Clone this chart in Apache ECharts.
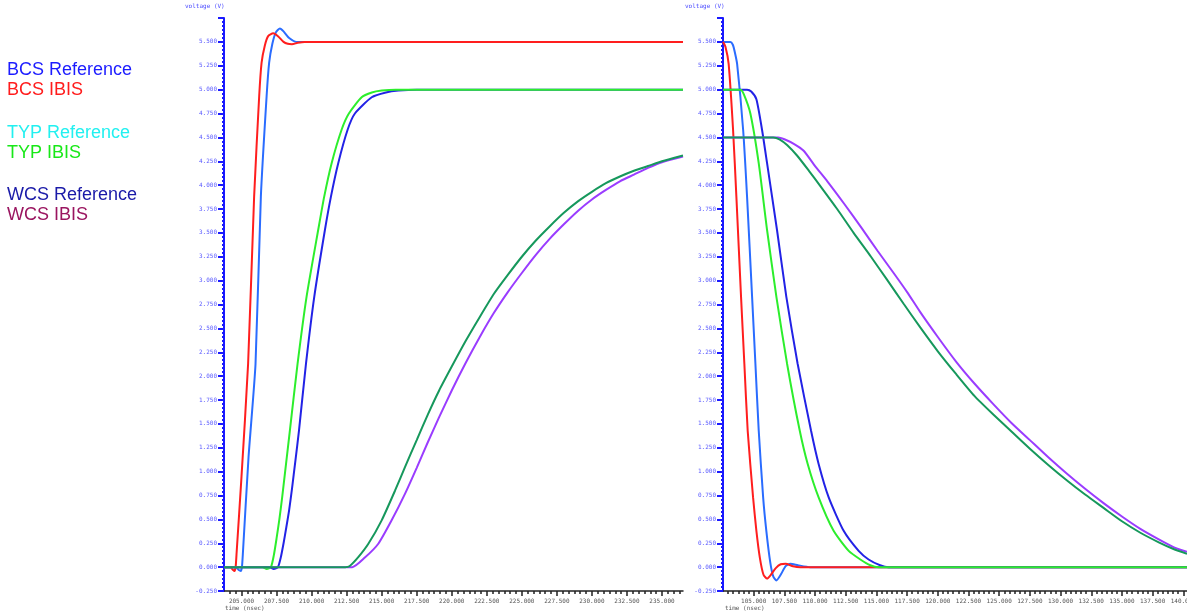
<!DOCTYPE html>
<html>
<head>
<meta charset="utf-8">
<title>IBIS rising / falling waveforms</title>
<script src="https://cdn.jsdelivr.net/npm/echarts@6/dist/echarts.min.js"></script>
<style>
  html, body { margin: 0; padding: 0; background: #fff; }
  #main { width: 1187px; height: 613px; }
</style>
</head>
<body>
<div id="main"></div>
<script>
// legend text (left side), in the colours used in the original
var legendNames = ['BCS Reference', 'BCS IBIS', 'TYP Reference', 'TYP IBIS', 'WCS Reference', 'WCS IBIS'];
var legendColors = ['#1c1cff', '#ff1c1c', '#22f0f0', '#18e818', '#1a1aa8', '#9a1560'];

// rising edge, time (ns) / voltage (V)
var riseBcsRef = [[203.75,0],[204.6,0],[204.8,-0.03],[204.95,-0.04],[205.03,0],[205.1,0.15],[205.5,1.15],[206.0,2.13],[206.38,3.88],[206.79,4.93],[206.97,5.28],[207.2,5.48],[207.45,5.6],[207.74,5.64],[208.0,5.61],[208.4,5.54],[208.93,5.5],[236.5,5.5]];
var riseBcsIbis = [[203.75,0],[204.2,0],[204.4,-0.03],[204.5,-0.04],[204.58,0],[204.65,0.15],[205.0,0.95],[205.47,2.13],[205.9,3.88],[206.26,4.93],[206.43,5.28],[206.66,5.46],[206.9,5.56],[207.26,5.59],[207.6,5.56],[208.0,5.5],[208.3,5.48],[208.6,5.476],[209.0,5.49],[209.5,5.5],[236.5,5.5]];
var riseTypRef = [[203.75,0],[207.0,0],[207.3,-0.02],[207.6,0],[207.8,0.1],[208.0,0.25],[208.2,0.42],[208.4,0.6],[208.6,0.82],[208.85,1.12],[209.1,1.43],[209.6,2.13],[210.19,2.83],[210.95,3.53],[211.38,3.88],[211.9,4.23],[212.57,4.58],[213.09,4.75],[214.29,4.92],[215.3,4.97],[216.2,4.99],[217.5,5.0],[236.5,5.0]];
var riseTypIbis = [[203.75,0],[206.5,0],[206.8,-0.02],[207.1,0],[207.3,0.12],[207.5,0.3],[207.7,0.5],[207.9,0.73],[208.45,1.43],[209.0,2.13],[209.64,2.83],[210.47,3.53],[210.9,3.88],[211.43,4.23],[212.14,4.58],[212.66,4.75],[213.57,4.92],[214.3,4.97],[215.0,4.99],[216.0,5.0],[236.5,5.0]];
var riseWcsRef = [[203.75,0],[212.4,0],[212.7,0.01],[213.33,0.105],[214.05,0.245],[215.0,0.49],[215.95,0.8],[216.67,1.05],[217.5,1.33],[218.3,1.6],[219.1,1.85],[220.0,2.1],[221.0,2.37],[222.0,2.62],[223.0,2.86],[224.0,3.06],[225.0,3.25],[226.0,3.42],[227.0,3.57],[228.0,3.71],[229.0,3.83],[230.0,3.93],[231.0,4.02],[232.0,4.09],[233.0,4.15],[234.0,4.2],[235.0,4.25],[236.5,4.31]];
var riseWcsIbis = [[203.75,0],[212.9,0],[213.8,0.1],[214.76,0.245],[215.71,0.49],[216.67,0.77],[217.5,1.04],[218.3,1.31],[219.1,1.57],[220.0,1.85],[221.0,2.14],[222.0,2.41],[223.0,2.66],[224.0,2.88],[225.0,3.08],[226.0,3.27],[227.0,3.44],[228.0,3.59],[229.0,3.73],[230.0,3.85],[231.0,3.95],[232.0,4.04],[233.0,4.11],[234.0,4.18],[235.0,4.24],[236.5,4.3]];

// falling edge, time (ns) / voltage (V)
var fallBcsRef = [[102.5,5.5],[103.1,5.5],[103.3,5.47],[103.45,5.4],[103.65,5.27],[104.14,4.58],[104.46,3.88],[104.87,2.83],[105.14,2.13],[105.41,1.43],[105.77,0.73],[106.03,0.38],[106.35,0.05],[106.6,-0.1],[106.85,-0.14],[107.2,-0.08],[107.6,0.01],[107.99,0.035],[108.6,0.02],[109.6,0],[140.3,0]];
var fallBcsIbis = [[102.5,5.5],[102.7,5.45],[102.96,5.27],[103.32,4.58],[103.59,3.88],[103.97,2.83],[104.24,2.13],[104.51,1.43],[104.95,0.73],[105.22,0.38],[105.5,0.1],[105.8,-0.08],[106.09,-0.12],[106.4,-0.08],[106.8,-0.01],[107.2,0.03],[107.6,0.035],[108.2,0.01],[108.8,0],[140.3,0]];
var fallTypRef = [[102.5,5.0],[104.46,5.0],[104.8,4.98],[105.22,4.9],[105.68,4.58],[106.09,4.23],[106.9,3.53],[107.66,2.83],[108.58,2.13],[109.67,1.43],[110.29,1.08],[111.11,0.73],[112.33,0.38],[113.55,0.17],[114.36,0.08],[115.3,0.02],[116.0,0],[140.3,0]];
var fallTypIbis = [[102.5,5.0],[103.92,5.0],[104.2,4.95],[104.73,4.75],[105.41,4.23],[106.09,3.53],[106.85,2.83],[107.72,2.13],[108.75,1.43],[109.4,1.08],[110.29,0.73],[111.51,0.38],[112.74,0.17],[113.69,0.08],[114.5,0.02],[115.2,0],[140.3,0]];
var fallWcsRef = [[102.5,4.5],[106.6,4.5],[107.1,4.48],[107.72,4.42],[108.53,4.31],[109.5,4.15],[110.43,3.99],[111.8,3.75],[113.14,3.5],[114.5,3.26],[115.86,3.01],[117.2,2.76],[118.57,2.51],[120.0,2.26],[121.5,2.02],[123.0,1.79],[124.5,1.6],[126.0,1.42],[127.5,1.24],[129.0,1.07],[130.5,0.91],[132.0,0.76],[133.5,0.62],[135.0,0.48],[136.5,0.36],[138.0,0.26],[139.2,0.19],[140.3,0.14]];
var fallWcsIbis = [[102.5,4.5],[107.0,4.5],[107.5,4.48],[108.3,4.43],[109.07,4.36],[110.0,4.2],[111.0,4.04],[112.4,3.8],[113.8,3.55],[115.1,3.31],[116.4,3.08],[117.5,2.88],[118.57,2.67],[120.0,2.41],[121.5,2.15],[123.0,1.92],[124.5,1.71],[126.0,1.51],[127.5,1.33],[129.0,1.15],[130.5,0.98],[132.0,0.82],[133.5,0.67],[135.0,0.53],[136.5,0.4],[138.0,0.29],[139.2,0.21],[140.3,0.16]];

// labelled time ticks
var riseTicks = [205, 207.5, 210, 212.5, 215, 217.5, 220, 222.5, 225, 227.5, 230, 232.5, 235];
var fallTicks = [105, 107.5, 110, 112.5, 115, 117.5, 120, 122.5, 125, 127.5, 130, 132.5, 135, 137.5, 140];

var myChart = echarts.init(document.getElementById('main'));

var lineColors = {
  bcsRef: '#2a6cff',
  bcsIbis: '#ff1e1e',
  typRef: '#2222e6',
  typIbis: '#2cee2c',
  wcsRef: '#16985c',
  wcsIbis: '#9a3cff'
};

function isMajor(v) {
  return Math.abs(v / 2.5 - Math.round(v / 2.5)) < 1e-6;
}

function timeAxis(grid, min, max) {
  return {
    type: 'value', gridIndex: grid, position: 'bottom', min: min, max: max,
    interval: 5 / 12,
    axisLine: { onZero: false, lineStyle: { color: '#222', width: 1.5 } },
    axisTick: { length: 3, lineStyle: { color: '#222', width: 1.5 } },
    axisLabel: {
      color: '#555', fontFamily: 'DejaVu Sans Mono', fontSize: 6, margin: 7,
      showMinLabel: false, showMaxLabel: false,
      formatter: function (v) { return isMajor(v) ? v.toFixed(3) : ''; }
    },
    splitLine: { show: false }
  };
}

// second axis on each grid just for the long ticks
function majorTickAxis(grid, min, max, ticks) {
  return {
    type: 'value', gridIndex: grid, position: 'bottom', min: min, max: max,
    axisLine: { show: false, onZero: false },
    axisTick: { length: 5, customValues: ticks, lineStyle: { color: '#222', width: 1.5 } },
    axisLabel: { show: false },
    splitLine: { show: false }
  };
}

function voltAxis(grid) {
  return {
    type: 'value', gridIndex: grid, position: 'left', min: -0.25, max: 5.75, interval: 0.25,
    axisLine: { show: true, onZero: false, lineStyle: { color: '#1a1aff', width: 2 } },
    axisTick: { show: true, length: 6, lineStyle: { color: '#1a1aff', width: 2 } },
    minorTick: { show: true, splitNumber: 6, length: 2, lineStyle: { color: '#1a1aff', width: 2 } },
    axisLabel: {
      color: '#5a5aff', fontFamily: 'DejaVu Sans Mono', fontSize: 6, margin: 7,
      showMaxLabel: false,
      formatter: function (v) { return v.toFixed(3); }
    },
    splitLine: { show: false }
  };
}

function line(name, data, color, xi, yi) {
  return {
    name: name, type: 'line', data: data, xAxisIndex: xi, yAxisIndex: yi,
    showSymbol: false, smooth: 0.2, animation: false,
    lineStyle: { color: color, width: 2 }, itemStyle: { color: color }
  };
}

var smallFont = '6px "DejaVu Sans Mono"';

option = {
  backgroundColor: '#fff',
  animation: false,
  grid: [
    { left: 224, top: 18, width: 459, height: 573, outerBoundsMode: 'none', containLabel: false },
    { left: 723, top: 18, width: 464, height: 573, outerBoundsMode: 'none', containLabel: false }
  ],
  xAxis: [
    timeAxis(0, 203.75, 236.5),
    majorTickAxis(0, 203.75, 236.5, riseTicks),
    timeAxis(1, 102.5, 140.3),
    majorTickAxis(1, 102.5, 140.3, fallTicks)
  ],
  yAxis: [voltAxis(0), voltAxis(1)],
  graphic: legendNames.map(function (n, i) {
    var ys = [70, 90, 133, 153, 195, 215];
    return {
      type: 'text', left: 7, top: ys[i] - 9,
      style: { text: n, fill: legendColors[i], font: '18px "Liberation Sans", Arial, sans-serif' }
    };
  }).concat([
    { type: 'text', left: 185, top: 3, style: { text: 'voltage (V)', fill: '#4a4aff', font: smallFont } },
    { type: 'text', left: 685, top: 3, style: { text: 'voltage (V)', fill: '#4a4aff', font: smallFont } },
    { type: 'text', left: 225, top: 605, style: { text: 'time (nsec)', fill: '#555', font: smallFont } },
    { type: 'text', left: 725, top: 605, style: { text: 'time (nsec)', fill: '#555', font: smallFont } }
  ]),
  series: [
    line('BCS Reference', riseBcsRef, lineColors.bcsRef, 0, 0),
    line('BCS IBIS', riseBcsIbis, lineColors.bcsIbis, 0, 0),
    line('TYP Reference', riseTypRef, lineColors.typRef, 0, 0),
    line('TYP IBIS', riseTypIbis, lineColors.typIbis, 0, 0),
    line('WCS IBIS', riseWcsIbis, lineColors.wcsIbis, 0, 0),
    line('WCS Reference', riseWcsRef, lineColors.wcsRef, 0, 0),

    line('BCS Reference', fallBcsRef, lineColors.bcsRef, 2, 1),
    line('BCS IBIS', fallBcsIbis, lineColors.bcsIbis, 2, 1),
    line('TYP Reference', fallTypRef, lineColors.typRef, 2, 1),
    line('TYP IBIS', fallTypIbis, lineColors.typIbis, 2, 1),
    line('WCS IBIS', fallWcsIbis, lineColors.wcsIbis, 2, 1),
    line('WCS Reference', fallWcsRef, lineColors.wcsRef, 2, 1)
  ]
};

myChart.setOption(option);
</script>
</body>
</html>
